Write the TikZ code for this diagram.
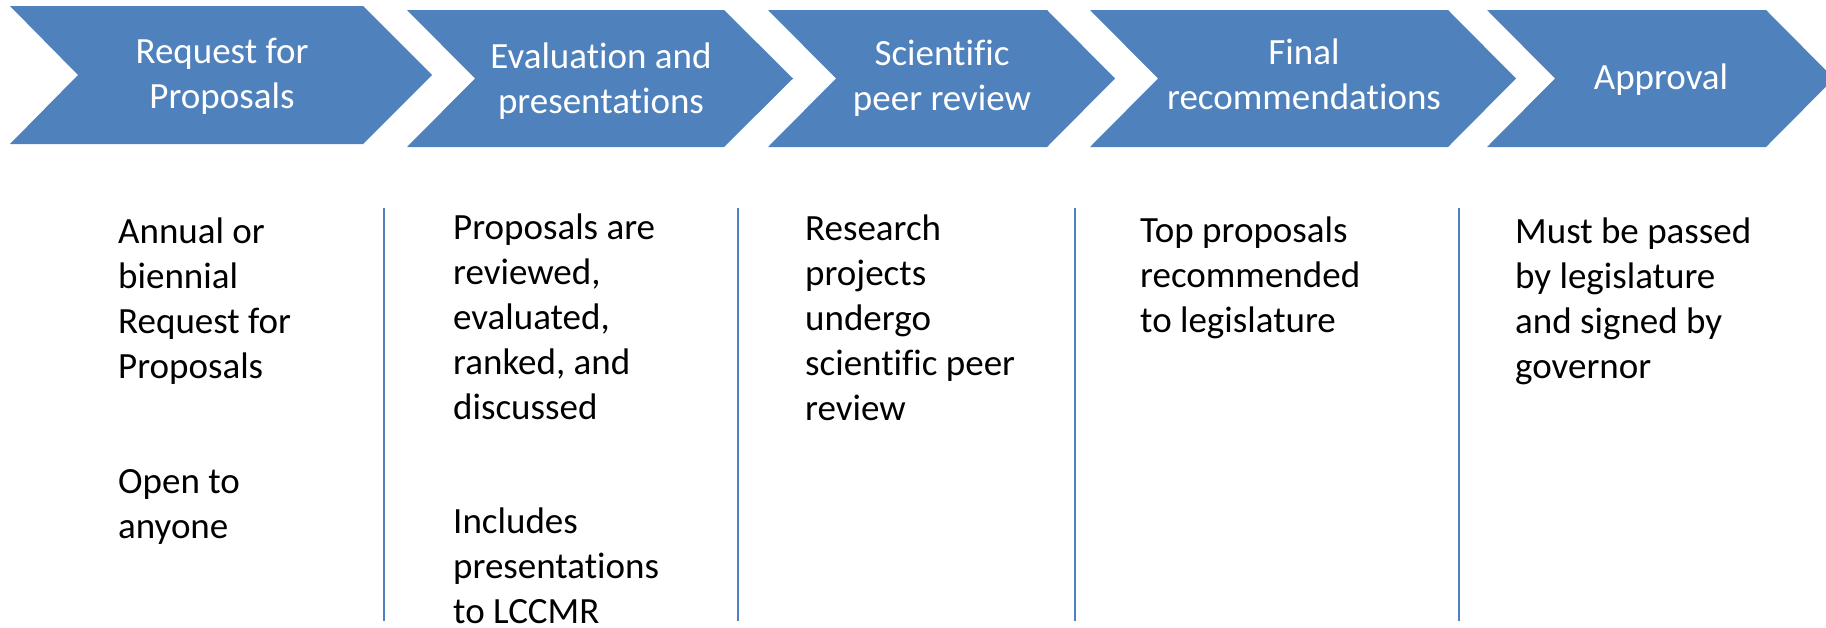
\documentclass[tikz,border=0pt]{standalone}
\usepackage{fontspec}
\setmainfont{Carlito}[Ligatures=NoCommon]
\definecolor{chev}{HTML}{4F81BD}
\begin{document}
\begin{tikzpicture}[x=1pt,y=-1pt,
  head/.style={text=white, font=\fontsize{37}{45}\selectfont, align=center, inner sep=0pt, anchor=base},
  body/.style={text=black, font=\fontsize{37}{45}\selectfont, align=left, inner sep=0pt, anchor=base west},
  divider/.style={draw=chev, line width=2pt},
  chevfill/.style={fill=chev}]
\useasboundingbox (0,0) rectangle (1826,627);
\begin{scope}
\clip (0,0) rectangle (1826,627);
\fill[chevfill] (10,6) -- (363,6) -- (432,75) -- (363,144) -- (10,144) -- (78,75) -- cycle;
\fill[chevfill] (407,10) -- (724,10) -- (793,78.5) -- (724,147) -- (407,147) -- (475,78.5) -- cycle;
\fill[chevfill] (768,10) -- (1047,10) -- (1115,78.5) -- (1047,147) -- (768,147) -- (836,78.5) -- cycle;
\fill[chevfill] (1090,10) -- (1448,10) -- (1516,78.5) -- (1448,147) -- (1090,147) -- (1158,78.5) -- cycle;
\fill[chevfill] (1487,10) -- (1766,10) -- (1834,78.5) -- (1766,147) -- (1487,147) -- (1555,78.5) -- cycle;
\end{scope}
% header labels (anchor = baseline of last line)
\node[head] (h1) at (222,108) {Request for\\Proposals};
\node[head] (h2) at (601,113) {Evaluation and\\presentations};
\node[head] (h3) at (942,110) {Scientific\\peer review};
\node[head] (h4) at (1304,109) {Final\\recommendations};
\node[head] (h5) at (1661,89) {Approval};
% dividers
\coordinate (d1t) at (384,208); \coordinate (d1b) at (384,621);
\coordinate (d2t) at (738,208); \coordinate (d2b) at (738,621);
\coordinate (d3t) at (1075,208); \coordinate (d3b) at (1075,621);
\coordinate (d4t) at (1459,208); \coordinate (d4b) at (1459,621);
\draw[divider] (d1t) -- (d1b);
\draw[divider] (d2t) -- (d2b);
\draw[divider] (d3t) -- (d3b);
\draw[divider] (d4t) -- (d4b);
% body texts (anchor = baseline of last line)
\node[body] (b1a) at (118,378) {Annual or\\biennial\\Request for\\Proposals};
\node[body] (b1b) at (118,538) {Open to\\anyone};
\node[body] (b2a) at (453,419) {Proposals are\\reviewed,\\evaluated,\\ranked, and\\discussed};
\node[body] (b2b) at (453,623) {Includes\\presentations\\to LCCMR};
\node[body] (b3) at (805,420) {Research\\projects\\undergo\\scientific peer\\review};
\node[body] (b4) at (1140,332) {Top proposals\\recommended\\to legislature};
\node[body] (b5) at (1515,378) {Must be passed\\by legislature\\and signed by\\governor};
\end{tikzpicture}
\end{document}
